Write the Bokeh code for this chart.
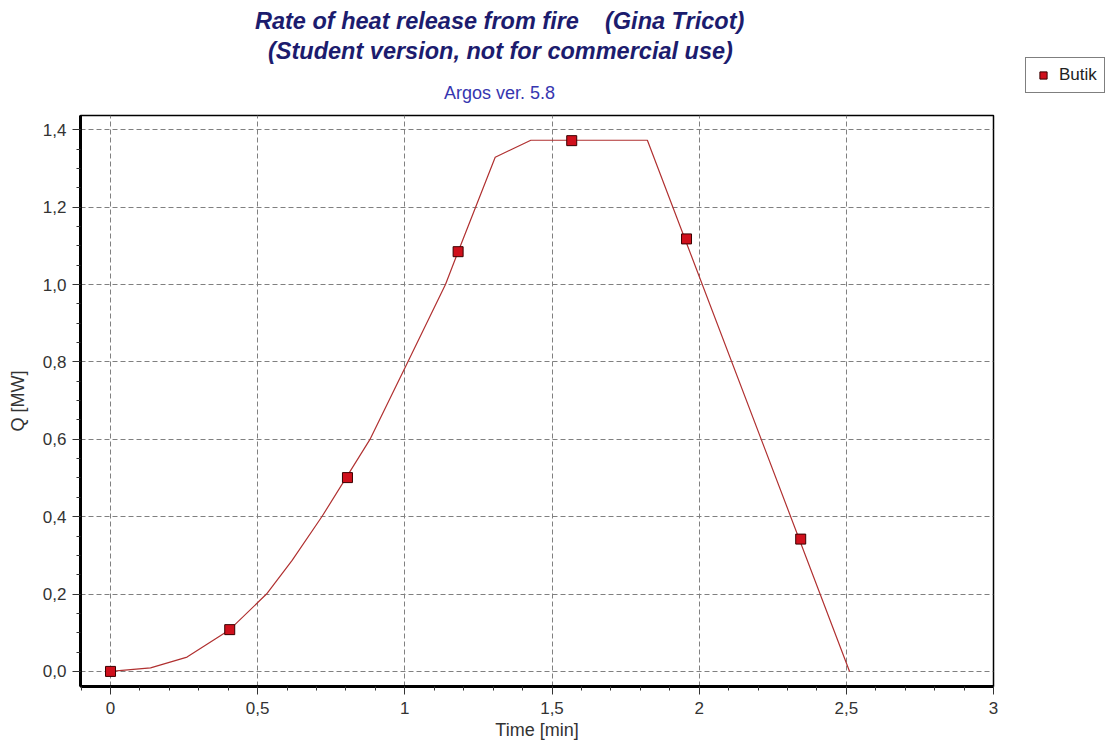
from bokeh.plotting import figure
from bokeh.models import (Range1d, FixedTicker, Title, Legend, LegendItem)
from bokeh.embed import file_html
from bokeh.resources import INLINE

# ---- data ----
line_time = [0, 0.136, 0.26, 0.405, 0.53, 0.617, 0.719, 0.881, 1.01, 1.138,
             1.181, 1.307, 1.428, 1.824, 2.511]
line_q = [0, 0.009, 0.037, 0.108, 0.2, 0.287, 0.401, 0.599, 0.8, 1.0,
          1.085, 1.329, 1.373, 1.373, 0.0]
marker_time = [0, 0.405, 0.805, 1.181, 1.567, 1.957, 2.345]
marker_q = [0, 0.108, 0.501, 1.085, 1.372, 1.118, 0.342]
series_name = "Butik"

x_ticks = [0, 0.5, 1, 1.5, 2, 2.5, 3]
x_tick_labels = ["0", "0,5", "1", "1,5", "2", "2,5", "3"]
y_ticks = [0, 0.2, 0.4, 0.6, 0.8, 1.0, 1.2, 1.4]
y_tick_labels = ["0,0", "0,2", "0,4", "0,6", "0,8", "1,0", "1,2", "1,4"]
x_minor = [round(-0.1 + 0.1 * i, 2) for i in range(32)]
y_minor = [round(0.05 * i, 2) for i in range(29)]

title1 = "Rate of heat release from fire \u00a0\u00a0\u00a0(Gina Tricot)"
title2 = "(Student version, not for commercial use)"
subtitle = "Argos ver. 5.8"
x_label = "Time [min]"
y_label = "Q [MW]"

FONT = "Liberation Sans"

p = figure(frame_width=913, frame_height=571, output_backend="svg",
           toolbar_location=None,
           x_range=Range1d(-0.102, 3.0), y_range=Range1d(-0.039, 1.437),
           min_border_left=80, min_border_right=114, min_border_top=115,
           min_border_bottom=58)
p.title.visible = False
p.background_fill_color = "white"
p.border_fill_color = "white"
p.outline_line_color = "black"
p.outline_line_width = 1.5

for ax in (p.xaxis[0], p.yaxis[0]):
    ax.axis_line_width = 3
    ax.axis_line_color = "black"
    ax.major_tick_out = 8
    ax.major_tick_in = 0
    ax.minor_tick_out = 4
    ax.minor_tick_in = 0
    ax.major_tick_line_color = "#333333"
    ax.minor_tick_line_color = "#333333"
    ax.major_label_text_font = FONT
    ax.major_label_text_font_size = "17px"
    ax.major_label_text_color = "#333333"
    ax.axis_label_text_font = FONT
    ax.axis_label_text_font_size = "18px"
    ax.axis_label_text_font_style = "normal"
    ax.axis_label_text_color = "#333333"

p.xaxis.ticker = FixedTicker(ticks=x_ticks, minor_ticks=x_minor)
p.yaxis.ticker = FixedTicker(ticks=y_ticks, minor_ticks=y_minor)
p.xaxis.major_label_overrides = {float(t): l for t, l in zip(x_ticks, x_tick_labels)}
p.yaxis.major_label_overrides = {float(t): l for t, l in zip(y_ticks, y_tick_labels)}
p.xaxis.major_label_standoff = 7
p.yaxis.major_label_standoff = 6
p.xaxis.axis_label = x_label
p.xaxis.axis_label_standoff = 3
p.yaxis.axis_label = y_label
p.yaxis.axis_label_standoff = 12

for g in (p.xgrid[0], p.ygrid[0]):
    g.grid_line_color = "#808080"
    g.grid_line_dash = "5 3"
    g.grid_line_width = 1

p.line(line_time, line_q, line_color="#b03030", line_width=1.2)
sc = p.scatter(marker_time, marker_q, marker="square", size=10,
               fill_color="#d0101c", line_color="#3a0000", line_width=1)

legend = Legend(items=[LegendItem(label=series_name, renderers=[sc])],
                location=(32, 593), border_line_color="black",
                border_line_width=1, background_fill_color="white",
                background_fill_alpha=1, label_text_font=FONT,
                label_text_font_size="17px", label_text_color="#222222",
                glyph_width=20, glyph_height=18, padding=7, margin=0,
                label_standoff=6)
p.add_layout(legend, "right")

# titles: first added sits closest to the plot frame
p.add_layout(Title(text=subtitle, align="left", offset=363.5, standoff=25,
                   vertical_align="bottom", text_font=FONT, text_font_size="18px",
                   text_font_style="normal", text_color="#3636b0"), "above")
p.add_layout(Title(text=title2, align="left", offset=187.5, standoff=3.5,
                   vertical_align="top", text_font=FONT, text_font_size="23.5px",
                   text_font_style="bold italic", text_color="#1c1c6e"), "above")
p.add_layout(Title(text=title1, align="left", offset=174.5, standoff=5,
                   vertical_align="bottom", text_font=FONT, text_font_size="23.5px",
                   text_font_style="bold italic", text_color="#1c1c6e"), "above")

open("out.html", "w").write(file_html(p, INLINE))
